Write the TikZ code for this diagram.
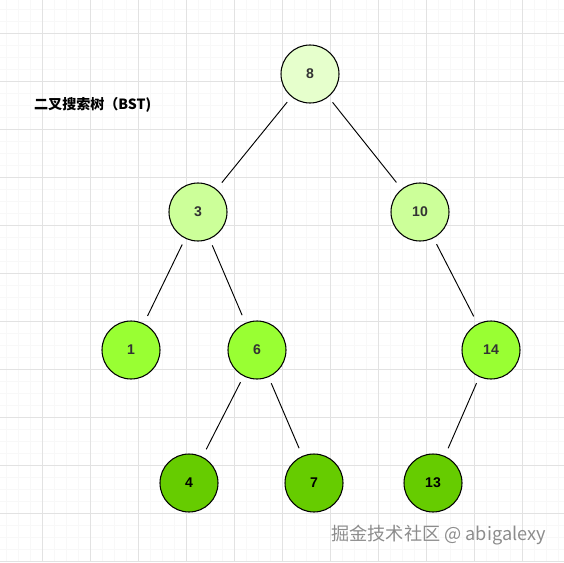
\documentclass[tikz,border=0pt]{standalone}
\usepackage{fontspec}
\setmainfont{Liberation Sans}
\newfontfamily\cjkfont{Noto Sans CJK SC}
\usetikzlibrary{positioning}
\definecolor{lvA}{HTML}{E6FFCC}
\definecolor{lvB}{HTML}{CCFF99}
\definecolor{lvC}{HTML}{99FF33}
\definecolor{lvD}{HTML}{66CC00}
\definecolor{gridmajor}{HTML}{E2E2E2}
\definecolor{gridminor}{HTML}{F8F8F8}
\begin{document}
\begin{tikzpicture}[x=0.03cm,y=-0.03cm,font=\bfseries\fontsize{12}{14}\selectfont,
  key/.style={circle,draw,line width=0.9pt,minimum size=1.74cm,inner sep=0pt,text=black!80},
  edge/.style={line width=0.8pt,shorten <=0.2cm,shorten >=0.25cm}]
\useasboundingbox (0,0) rectangle (564,562);
% background grid
\foreach \g in {6,18,...,564} \draw[gridminor,line width=0.4pt] (\g,0)--(\g,562);
\foreach \g in {9,21,...,562} \draw[gridminor,line width=0.4pt] (0,\g)--(564,\g);
\foreach \g in {42,90,...,564} \draw[gridmajor,line width=0.7pt] (\g,0)--(\g,562);
\foreach \g in {33,81,...,562} \draw[gridmajor,line width=0.7pt] (0,\g)--(564,\g);
% tree
\node[key,fill=lvA] (n8) at (310,74) {8};
\node[key,fill=lvB] (n3) at (198,212) {3};
\node[key,fill=lvB] (n10) at (420,212) {10};
\node[key,fill=lvC] (n1) at (131,350) {1};
\node[key,fill=lvC] (n6) at (257,350) {6};
\node[key,fill=lvC] (n14) at (491,350) {14};
\node[key,fill=lvD,text=black] (n4) at (189,483) {4};
\node[key,fill=lvD,text=black] (n7) at (314,483) {7};
\node[key,fill=lvD,text=black] (n13) at (433,483) {13};
\foreach \a/\b in {n8/n3,n8/n10,n3/n1,n3/n6,n10/n14,n6/n4,n6/n7,n14/n13}
  \draw[edge] (\a)--(\b);
\node[font=\cjkfont\bfseries\fontsize{12}{14}\selectfont,anchor=west] (title) at (30,105) {二叉搜索树（BST)};
\node[font=\cjkfont\fontsize{15.5}{17}\selectfont,text=black!45,anchor=east] (mark) at (550,535) {掘金技术社区 @ abigalexy};
\end{tikzpicture}
\end{document}
